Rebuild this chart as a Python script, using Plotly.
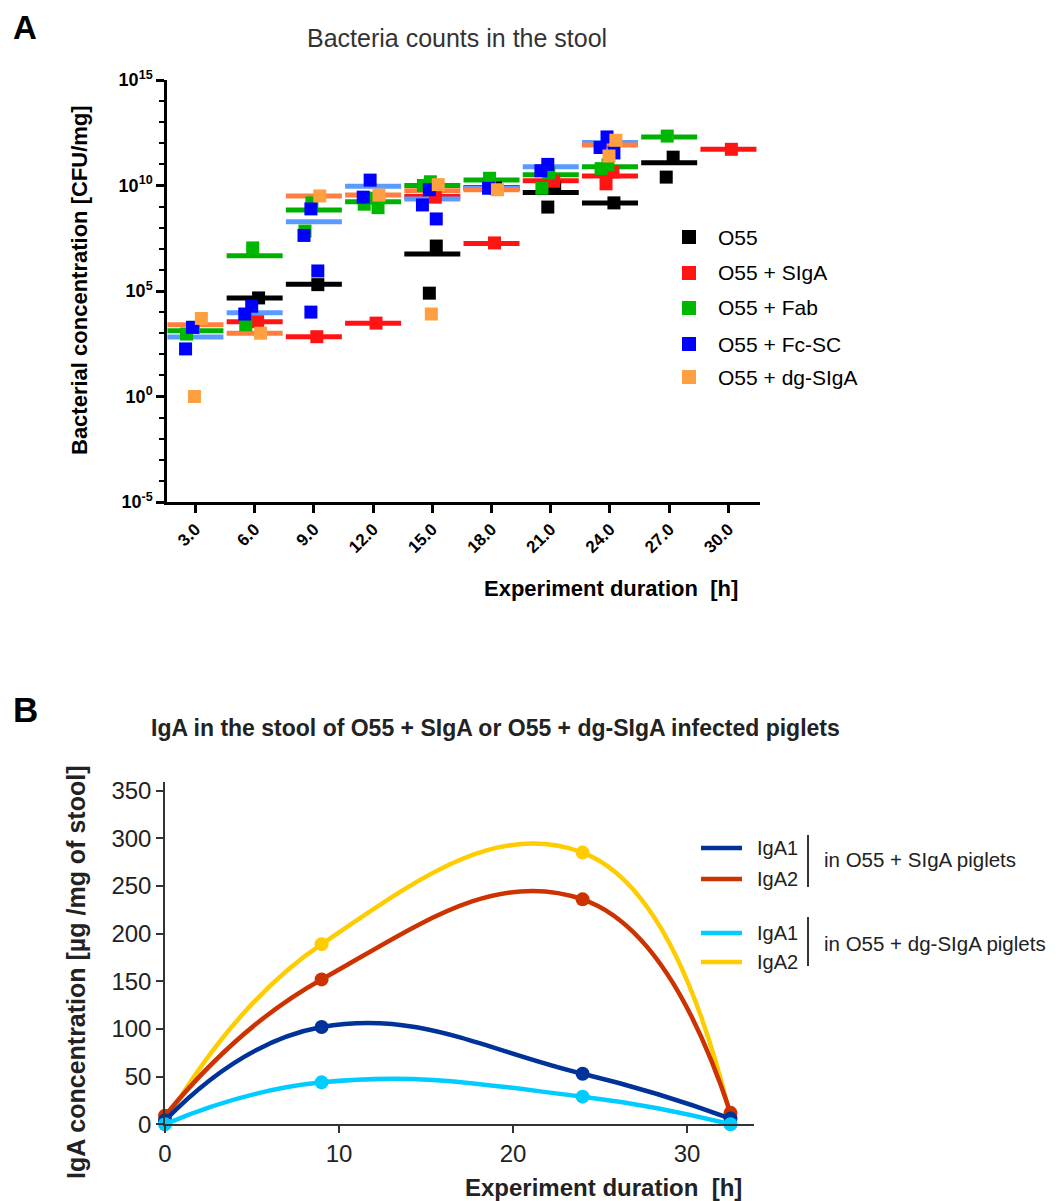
import plotly.graph_objects as go

# the page body adds an 8 px margin, so the figure is 8 px smaller and
# page-pixel positions are converted to paper fractions with that offset
OFF = 8
W, H = 1060 - OFF, 1201 - OFF

def px(x):
    return (x - OFF) / W

def py(y):
    return 1 - (y - OFF) / H

# ---------------- Panel A data ----------------
times = [3, 6, 9, 12, 15, 18, 21, 24, 27, 30]
time_labels = ["3.0", "6.0", "9.0", "12.0", "15.0", "18.0", "21.0", "24.0", "27.0", "30.0"]
decade_ticks = [1e-5, 1e0, 1e5, 1e10, 1e15]
decade_labels = ["10<sup>-5</sup>", "10<sup>0</sup>", "10<sup>5</sup>", "10<sup>10</sup>", "10<sup>15</sup>"]
minor_ticks = [1e-4, 1e-3, 1e-2, 1e-1, 1e1, 1e2, 1e3, 1e4, 1e6, 1e7, 1e8, 1e9, 1e11, 1e12, 1e13, 1e14]

series_names = ["O55", "O55 + SIgA", "O55 + Fab", "O55 + Fc-SC", "O55 + dg-SIgA"]
point_colors = ["#000000", "#ff1414", "#00b800", "#0000ff", "#ffa040"]
mean_colors = ["#000000", "#ff1414", "#00b000", "#5b9bff", "#ff7f40"]

# means per time point (None = not measured) [CFU/mg]
o55_mean = [None, 4.7e4, 2.1e5, None, 5.6e6, 7.9e9, 4.6e9, 1.5e9, 1.2e11, None]
siga_mean = [None, 3.5e3, 6.8e2, 3.0e3, 3.0e9, 1.8e7, 1.7e10, 2.8e10, None, 5.2e11]
fab_mean = [1.3e3, 4.7e6, 6.9e8, 1.7e9, 1.0e10, 1.8e10, 3.2e10, 7.8e10, 2.0e12, None]
fcsc_mean = [6.6e2, 9.3e3, 1.9e8, 9.3e9, 2.3e9, 7.4e9, 7.8e10, 1.1e12, None, None]
dgsiga_mean = [2.5e3, 1.0e3, 3.2e9, 3.5e9, 5.6e9, 6.3e9, None, 8.3e11, None, None]

# individual piglets per time point [CFU/mg]
o55_points = [[], [4.7e4], [2.0e5], [], [1.35e7, 7.9e4], [7.6e9], [7.9e9, 9.5e8], [1.5e9], [2.2e11, 2.5e10], []]
siga_points = [[], [3.5e3], [6.8e2], [3.0e3], [2.8e9], [1.9e7], [1.6e10], [4.4e10, 1.2e10], [], [5.2e11]]
fab_points = [[1.9e3, 9.1e2], [1.1e7, 2.5e3], [1.5e9, 6.9e7], [2.5e9, 1.3e9, 8.9e8], [1.5e10, 1.0e10],
              [2.2e10], [3.9e10, 7.4e9], [9.3e10, 6.3e10], [2.2e12], []]
fcsc_points = [[1.9e3, 1.8e2], [1.9e4, 8.1e3], [7.8e8, 4.3e7, 8.9e5, 1.0e4], [1.8e10, 2.8e9],
               [6.3e9, 1.2e9, 2.6e8], [7.4e9], [1.0e11, 5.0e10], [2.0e12, 6.3e11, 3.5e11], [], []]
dgsiga_points = [[5.0e3, 1.0e0], [1.0e3], [3.2e9], [3.5e9], [1.1e10, 8.1e3], [6.3e9], [], [1.4e12, 2.5e11], [], []]

all_means = [o55_mean, siga_mean, fab_mean, fcsc_mean, dgsiga_mean]
all_points = [o55_points, siga_points, fab_points, fcsc_points, dgsiga_points]

# ---------------- Panel B data ----------------
times_b = [0, 9, 24, 32.5]
iga1_siga = [4, 102, 53, 6]
iga2_siga = [9, 152, 236, 12]
iga1_dg = [0, 44, 29, 0]
iga2_dg = [2, 189, 285, 8]
names_b = ["IgA2 (dg-SIgA)", "IgA2 (SIgA)", "IgA1 (SIgA)", "IgA1 (dg-SIgA)"]
values_b = [iga2_dg, iga2_siga, iga1_siga, iga1_dg]
colors_b = ["#ffcc00", "#cc3300", "#003399", "#00ccff"]

FONT = "Arial, Liberation Sans, Helvetica, sans-serif"

fig = go.Figure()

series_dodge = [0.2, 0.15, -0.1, -0.15, 0.3]
rep_dodge = [0.0, -0.35, 0.35, 0.0]

for s in range(5):
    mx, my = [], []
    for i, t in enumerate(times):
        if all_means[s][i] is not None:
            mx.append(t)
            my.append(all_means[s][i])
    fig.add_trace(go.Scatter(
        x=mx, y=my, mode="markers", xaxis="x", yaxis="y", showlegend=False,
        marker=dict(symbol="line-ew", size=40, line=dict(width=5, color=mean_colors[s])),
        hoverinfo="skip", cliponaxis=False))

for s in range(5):
    xs, ys = [], []
    for i, t in enumerate(times):
        for j, v in enumerate(all_points[s][i]):
            xs.append(t + series_dodge[s] + rep_dodge[j % len(rep_dodge)])
            ys.append(v)
    fig.add_trace(go.Scatter(
        x=xs, y=ys, mode="markers", xaxis="x", yaxis="y", name=series_names[s], showlegend=False,
        marker=dict(symbol="square", size=13, color=point_colors[s], line=dict(width=0)),
        cliponaxis=False))

for k in range(4):
    fig.add_trace(go.Scatter(
        x=times_b, y=values_b[k], mode="lines+markers", xaxis="x2", yaxis="y2",
        name=names_b[k], showlegend=False,
        line=dict(color=colors_b[k], width=4.5, shape="spline", smoothing=1.3),
        marker=dict(size=14, color=colors_b[k]), cliponaxis=False))

annotations = []
shapes = []

leg_rows = [237, 273, 308, 344, 377]
for s in range(5):
    y = leg_rows[s]
    shapes.append(dict(type="rect", xref="paper", yref="paper",
                       x0=px(682), x1=px(696), y0=py(y + 7), y1=py(y - 7),
                       fillcolor=point_colors[s], line=dict(width=0)))
    annotations.append(dict(text=series_names[s], x=px(716), y=py(y), xanchor="left", yanchor="middle",
                            font=dict(family=FONT, size=21, color="#000")))

leg_b = [(848, "#003399", "IgA1"), (879, "#cc3300", "IgA2"), (933, "#00ccff", "IgA1"), (962, "#ffcc00", "IgA2")]
for y, c, t in leg_b:
    shapes.append(dict(type="line", xref="paper", yref="paper", x0=px(701), x1=px(742), y0=py(y), y1=py(y),
                       line=dict(color=c, width=4.5)))
    annotations.append(dict(text=t, x=px(755), y=py(y), xanchor="left", yanchor="middle",
                            font=dict(family=FONT, size=20, color="#222")))
for y0, y1, yt, t in [(835, 887, 859, "in O55 + SIgA piglets"), (917, 966, 943, "in O55 + dg-SIgA piglets")]:
    shapes.append(dict(type="line", xref="paper", yref="paper", x0=px(808), x1=px(808), y0=py(y0), y1=py(y1),
                       line=dict(color="#333", width=2)))
    annotations.append(dict(text=t, x=px(822), y=py(yt), xanchor="left", yanchor="middle",
                            font=dict(family=FONT, size=20.5, color="#222")))

annotations += [
    dict(text="<b>A</b>", x=px(11), y=py(27), xanchor="left", yanchor="middle",
         font=dict(family=FONT, size=33, color="#000")),
    dict(text="Bacteria counts in the stool", x=px(457), y=py(38), xanchor="center", yanchor="middle",
         font=dict(family=FONT, size=25, color="#333")),
    dict(text="<b>Bacterial concentration [CFU/mg]</b>", x=px(80), y=py(280), textangle=-90,
         xanchor="center", yanchor="middle", font=dict(family=FONT, size=22, color="#000")),
    dict(text="<b>Experiment duration  [h]</b>", x=px(611), y=py(588), xanchor="center", yanchor="middle",
         font=dict(family=FONT, size=22, color="#000")),
    dict(text="<b>B</b>", x=px(11), y=py(709), xanchor="left", yanchor="middle",
         font=dict(family=FONT, size=35, color="#000")),
    dict(text="<b>IgA in the stool of O55 + SIgA or O55 + dg-SIgA infected piglets</b>", x=px(495), y=py(728),
         xanchor="center", yanchor="middle", font=dict(family=FONT, size=23, color="#222")),
    dict(text="<b>IgA concentration [µg /mg of stool]</b>", x=px(76), y=py(973), textangle=-90,
         xanchor="center", yanchor="middle", font=dict(family=FONT, size=25, color="#222")),
    dict(text="<b>Experiment duration  [h]</b>", x=px(603), y=py(1187), xanchor="center", yanchor="middle",
         font=dict(family=FONT, size=24, color="#222")),
]
for a in annotations:
    a.setdefault("xref", "paper")
    a.setdefault("yref", "paper")
    a.setdefault("showarrow", False)

fig.update_layout(
    width=W, height=H, margin=dict(l=0, r=0, t=0, b=0, autoexpand=False),
    paper_bgcolor="white", plot_bgcolor="white", showlegend=False,
    font=dict(family=FONT, color="#000"),
    xaxis=dict(domain=[px(167), px(760)], range=[1.56, 31.6], anchor="y", automargin=False,
               tickmode="array", tickvals=times, ticktext=time_labels, tickangle=-45,
               ticks="outside", ticklen=8, tickwidth=2.5, tickcolor="#000",
               showline=True, linewidth=2.5, linecolor="#000", showgrid=False, zeroline=False,
               tickfont=dict(family=FONT, size=17, color="#000", weight="bold")),
    yaxis=dict(domain=[py(502), py(80)], type="log", range=[-5, 15], anchor="x", automargin=False,
               tickmode="array", tickvals=decade_ticks, ticktext=decade_labels,
               ticks="outside", ticklen=8, tickwidth=2.5, tickcolor="#000",
               minor=dict(tickmode="array", tickvals=minor_ticks, ticks="outside", ticklen=5,
                          tickwidth=2, tickcolor="#000", showgrid=False),
               showline=True, linewidth=2.5, linecolor="#000", showgrid=False, zeroline=False,
               tickfont=dict(family=FONT, size=18, color="#000", weight="bold")),
    xaxis2=dict(domain=[px(165), px(754)], range=[0, 33.85], anchor="y2", automargin=False,
                tickmode="array", tickvals=[0, 10, 20, 30],
                ticks="outside", ticklen=7, tickwidth=1.5, tickcolor="#333",
                showline=True, linewidth=1.5, linecolor="#333", showgrid=False, zeroline=False,
                tickfont=dict(family=FONT, size=24, color="#222")),
    yaxis2=dict(domain=[py(1124.3), py(781.7)], range=[0, 359.4], anchor="x2", automargin=False,
                tickmode="array", tickvals=[0, 50, 100, 150, 200, 250, 300, 350],
                ticks="outside", ticklen=7, tickwidth=1.5, tickcolor="#333",
                showline=True, linewidth=1.5, linecolor="#333", showgrid=False, zeroline=False,
                tickfont=dict(family=FONT, size=24, color="#222")),
    annotations=annotations, shapes=shapes,
)

fig.write_html("out.html")
